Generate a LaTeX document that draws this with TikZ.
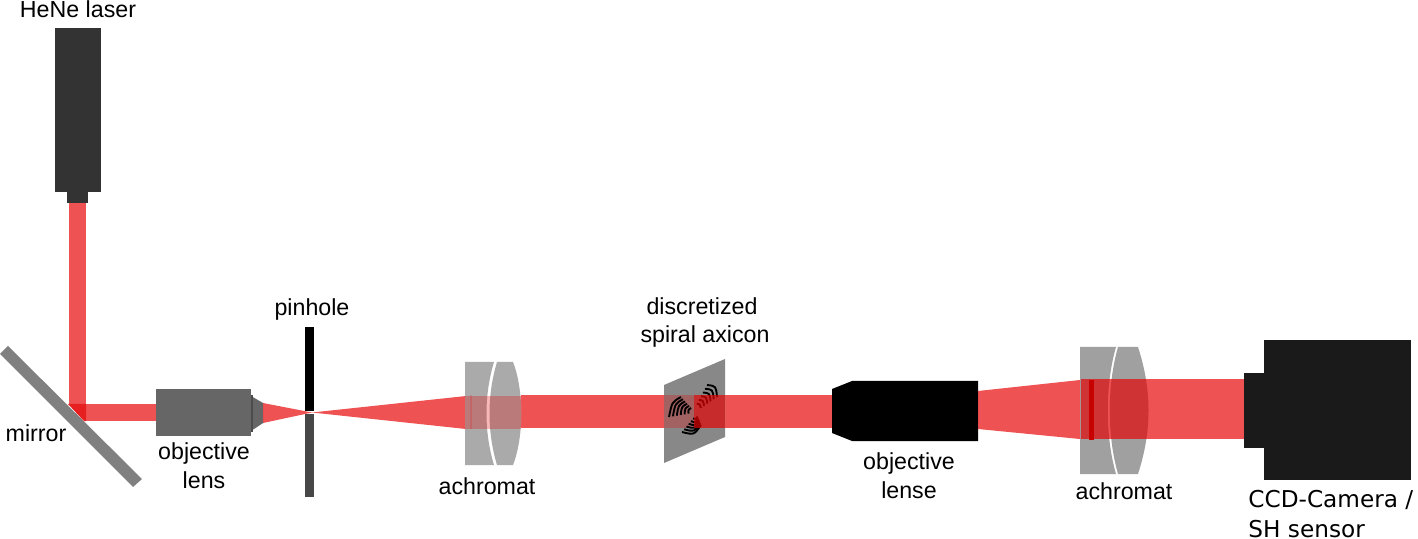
\documentclass[tikz,border=0pt]{standalone}
\usepackage{fontspec}
\setmainfont{Liberation Sans}
\newfontfamily\camerafont{DejaVu Sans}
\usetikzlibrary{calc}
\tikzset{
  x=0.5pt,y=-0.5pt,
  beam/.style={fill=beamred,fill opacity=.68,draw=none},
  beamtint/.style={fill=beamred,fill opacity=.28,draw=none},
  glass/.style={fill=glassgrey,draw=none},
  glassdark/.style={fill=glassdarkgrey,draw=none},
  caption/.style={font=\fontsize{11.6pt}{14.4pt}\selectfont,align=center,text=black,inner sep=0pt},
  groove/.style={line width=0.95pt,draw=black,line cap=butt}
}
\definecolor{beamred}{HTML}{E60000}
\definecolor{glassgrey}{HTML}{AAAAAA}
\definecolor{glassdarkgrey}{HTML}{A0A0A0}
\definecolor{laserbody}{HTML}{333333}
\definecolor{camerabody}{HTML}{1A1A1A}
\definecolor{mirrorgrey}{HTML}{808080}
\definecolor{axicongrey}{HTML}{888888}
\definecolor{objgrey}{HTML}{666666}
\definecolor{overlapred}{HTML}{E62020}
% One sector of the axicon: grooves spread between an inner and an outer arc
\newcommand{\spiralsector}[6]{%
  \foreach \t in {.15,.32,.49,.66,.83,1}{
    \draw[groove] ($#1!\t!#4$) .. controls ($#2!\t!#5$) .. ($#3!\t!#6$);
  }}
\begin{document}
\begin{tikzpicture}
\useasboundingbox (0,0) rectangle (1418,539);

% HeNe laser and its output collar
\fill[laserbody] (55,28) rectangle (101,192);
\fill[laserbody] (67,192) rectangle (88,203);

% Mirror
\fill[mirrorgrey] (8,346) -- (0,354) -- (133,487) -- (142,479) -- cycle;

% Beam from laser down to the mirror, then along the first leg
\fill[beam] (69,203) rectangle (86,404);
\fill[beam] (86,404) rectangle (156,421);
\fill[overlapred] (68,404) -- (86,404) -- (86,421) -- (84,421) -- cycle;

% First objective lens
\fill[objgrey] (156,389) rectangle (251,436);
\fill[objgrey] (251,396) -- (263,403) -- (263,423) -- (251,431) -- cycle;
\fill[black!70] (250.5,395) rectangle (252.5,432);

% Focused beam through the pinhole
\fill[beam] (263,403) -- (263,423) -- (312,412.5) -- cycle;
\fill[beam] (312,412.5) -- (466,396) -- (466,429) -- cycle;

% Pinhole plate
\fill[black] (305,327) rectangle (314,411);
\fill[black!72] (305,414) rectangle (314,497);

% Collimated beam between the first achromat and the second objective
\fill[beam] (521,395) rectangle (664,428);
\fill[beam] (725,395) rectangle (832,428);

% First achromat
\fill[glass] (465,362) -- (494,362) .. controls (484,395) and (484,432) .. (494,465) -- (465,465) -- cycle;
\fill[glass] (497,362) -- (513,362) .. controls (524,390) and (524,437) .. (513,465) -- (497,465) .. controls (487,432) and (487,395) .. (497,362) -- cycle;
\fill[beamtint] (465,396) rectangle (521,429);
\fill[beamred,fill opacity=.16] (470,395) rectangle (472,429);

% Discretized spiral axicon
\fill[axicongrey] (664,385) -- (725,359) -- (725,437) -- (664,463) -- cycle;
\fill[beamtint] (664,395) rectangle (694,428);
\spiralsector{(692,413)}{(691,411)}{(693,410)}{(669,417)}{(672,402)}{(681,397)}
\spiralsector{(695,407)}{(697,407)}{(698,410)}{(707,385)}{(716,386)}{(717,397)}
\spiralsector{(695,416)}{(696,417)}{(697,415)}{(682,432)}{(694,435)}{(701,425)}
\fill[beam] (694,395) rectangle (725,428);

% Second objective
\fill[black] (832,389) -- (852,381) -- (978,381) -- (978,441) -- (852,441) -- (832,433) -- cycle;

% Second achromat
\fill[glassdark] (1080,347) -- (1116,347) .. controls (1105,385) and (1105,436) .. (1116,474) -- (1080,474) -- cycle;
\fill[glassdark] (1118,347) -- (1138,347) .. controls (1152,390) and (1152,431) .. (1138,474) -- (1118,474) .. controls (1107,436) and (1107,385) .. (1118,347) -- cycle;

% Expanding beam to the camera
\fill[beam] (978,391) -- (1080,380) -- (1080,439) -- (978,429) -- cycle;
\fill[beam] (1081,379) rectangle (1244,439);
\fill[red!78!black] (1089,380) rectangle (1094,440);

% Camera
\fill[camerabody] (1264,340) rectangle (1411,480);
\fill[camerabody] (1244,373) rectangle (1264,448);

% Captions
\node[caption] (laserlabel) at (78,9) {HeNe laser};
\node[caption] (mirrorlabel) at (36,433) {mirror};
\node[caption] (objlabel) at (204,466) {objective\\lens};
\node[caption] (pinholelabel) at (312,310) {pinhole};
\node[caption] (achrlabela) at (487,486) {achromat};
\node[caption] (axiconlabel) at (705,322.5) {\mbox{discretized\kern3pt}\\spiral axicon};
\node[caption] (objlabelb) at (909,475.5) {objective\\lense};
\node[caption] (achrlabelb) at (1124,491) {achromat};
\node[caption,font=\camerafont\fontsize{11.6pt}{15pt}\selectfont,align=left,anchor=south west] (cameralabel) at (1248,538) {CCD-Camera /\\SH sensor};
\end{tikzpicture}
\end{document}
